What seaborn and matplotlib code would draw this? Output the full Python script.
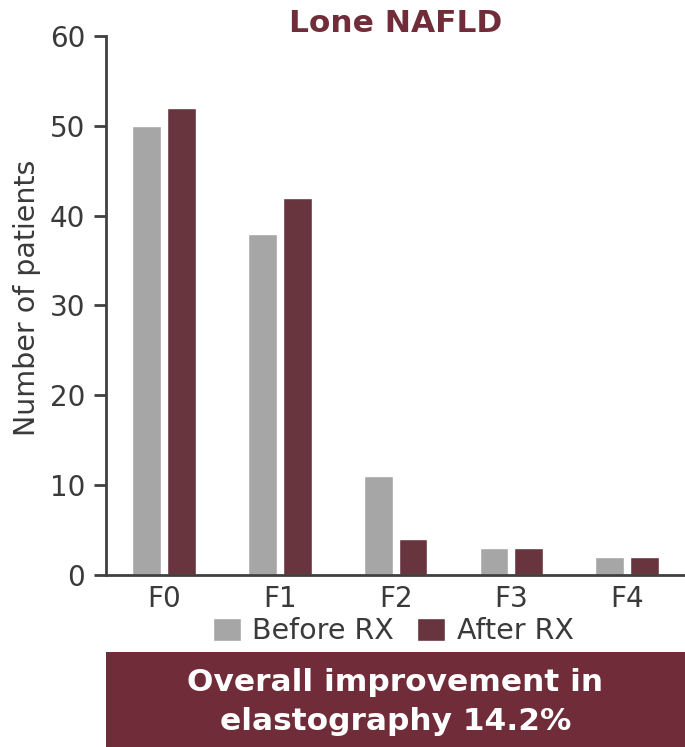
import matplotlib
matplotlib.use("Agg")
import matplotlib.pyplot as plt
import seaborn as sns
import pandas as pd
from matplotlib.patches import Rectangle

grades = ["F0", "F1", "F2", "F3", "F4"]
before_rx = [50, 38, 11, 3, 2]
after_rx = [52, 42, 4, 3, 2]
series_names = ["Before RX", "After RX"]
yticks = [0, 10, 20, 30, 40, 50, 60]
title = "Lone NAFLD"
ylabel = "Number of patients"
footer = "Overall improvement in\nelastography 14.2%"

GRAY = "#a6a6a6"
MAROON = "#702d39"
TXT = "#3a3a3a"

df = pd.DataFrame({
    "grade": grades * 2,
    "count": before_rx + after_rx,
    "series": [series_names[0]] * len(grades) + [series_names[1]] * len(grades),
})

sns.set_style("white")
plt.rcParams["font.family"] = ["DejaVu Sans"]

fig = plt.figure(figsize=(6.85, 7.47), dpi=100)
ax = fig.add_axes([0.155, 0.2303, 0.845, 0.7215])

sns.barplot(data=df, x="grade", y="count", hue="series",
            palette=[GRAY, MAROON], width=0.6, gap=0.17,
            edgecolor="white", linewidth=1, ax=ax, legend=True)

ax.set_xlim(-0.5, 4.5)
ax.set_ylim(0, 60)
ax.set_yticks(yticks)
ax.set_xticks(range(len(grades)))
ax.set_xticklabels(grades)
ax.set_xticks([i - 0.5 for i in range(len(grades) + 1)], minor=True)
ax.tick_params(axis="x", which="major", length=0, pad=7, labelsize=20, labelcolor=TXT)
ax.tick_params(axis="x", which="minor", length=9, width=2, color="#404040", direction="out")
ax.tick_params(axis="y", which="major", length=9, width=2, color="#404040", direction="out",
               labelsize=20, labelcolor=TXT, pad=6, left=True)
ax.set_xlabel("")
ax.set_ylabel(ylabel, fontsize=20.5, color=TXT)
ax.yaxis.set_label_coords(-0.113, 0.515)
for s in ["top", "right"]:
    ax.spines[s].set_visible(False)
for s in ["left", "bottom"]:
    ax.spines[s].set_linewidth(2)
    ax.spines[s].set_color("#404040")

leg = ax.legend(loc="center", bbox_to_anchor=(0.574, 0.155), bbox_transform=fig.transFigure,
                ncol=2, frameon=False, fontsize=20.5, handlelength=1.0, handleheight=0.9,
                handletextpad=0.4, columnspacing=0.8)
for t in leg.get_texts():
    t.set_color(TXT)

fig.text(0.577, 0.968, title, ha="center", va="center", fontsize=22.5,
         fontweight="bold", color=MAROON)

fig.patches.append(Rectangle((106 / 685, 0), (685 - 106) / 685, 95 / 747,
                             transform=fig.transFigure, facecolor=MAROON,
                             edgecolor="none", zorder=0))
fig.text(0.577, 0.060, footer, ha="center", va="center", fontsize=22.5,
         fontweight="bold", color="white", linespacing=1.42)

fig.savefig("out.png", dpi=100)
